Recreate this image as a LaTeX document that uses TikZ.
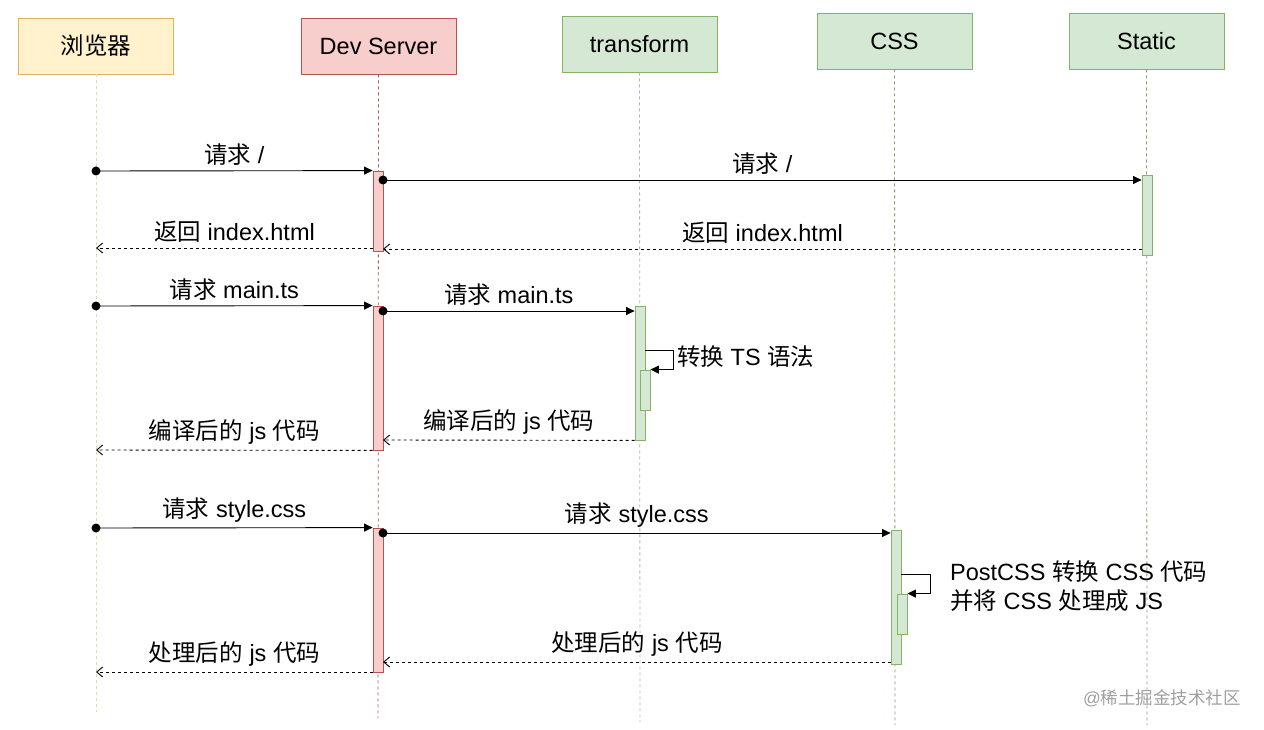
\documentclass[tikz,border=0pt]{standalone}
\usepackage{fontspec}
\setmainfont{Liberation Sans}
\newfontfamily\cjk{Noto Sans CJK SC}
\newcommand{\zh}[1]{{\cjk #1}}
\usetikzlibrary{arrows.meta}
\definecolor{yfill}{HTML}{FFF2CC}\definecolor{ydraw}{HTML}{D6B656}
\definecolor{rfill}{HTML}{F8CECC}\definecolor{rdraw}{HTML}{B85450}
\definecolor{gfill}{HTML}{D5E8D4}\definecolor{gdraw}{HTML}{82B366}
\tikzset{
  txt/.style={font=\fontsize{23.5}{27}\selectfont, inner sep=0pt},
  head/.style={draw, line width=0.8pt, minimum width=155pt, minimum height=56pt, txt},
  life/.style={line width=0.8pt, dash pattern=on 3pt off 3pt},
  act/.style={draw, line width=0.8pt, minimum width=10pt, inner sep=0pt},
  msg/.style={line width=0.9pt, -{Triangle[length=8.5pt,width=8pt]}},
  ret/.style={line width=0.9pt, dash pattern=on 3pt off 3pt, -{Straight Barb[length=6pt,width=10pt]}},
  lab/.style={txt, above=5pt, midway},
  dot/.style={circle, fill=black, inner sep=0pt, minimum size=9pt}
}
\begin{document}
\begin{tikzpicture}[x=1pt,y=-1pt]
\useasboundingbox (0,0) rectangle (1264,730);
% headers
\node[head, fill=yfill, draw=ydraw] (hB) at (96,46) {\zh{浏览器}};
\node[head, fill=rfill, draw=rdraw] (hD) at (378.5,46) {Dev Server};
\node[head, fill=gfill, draw=gdraw] (hT) at (639.5,44) {transform};
\node[head, fill=gfill, draw=gdraw] (hC) at (894.5,41) {CSS};
\node[head, fill=gfill, draw=gdraw] (hS) at (1146.5,41) {Static};
% lifeline ends
\coordinate (eB) at (96,712);
\coordinate (eD) at (378,718);
\coordinate (eT) at (640,722);
\coordinate (eC) at (895,725);
\coordinate (eS) at (1147,725);
\draw[life, draw=ydraw!55] (hB.south) -- (eB);
\draw[life, draw=rdraw] (hD.south) -- (eD);
\draw[life, draw=gray!60] (hT.south) -- (eT);
\draw[life, draw=gdraw!60!gray] (hC.south) -- (eC);
\draw[life, draw=gdraw!60!gray] (hS.south) -- (eS);
% activations
\node[act, fill=rfill, draw=rdraw, minimum height=80pt] (d1) at (378,211) {};
\node[act, fill=gfill, draw=gdraw, minimum height=80pt] (s1) at (1147,215) {};
\node[act, fill=rfill, draw=rdraw, minimum height=144pt] (d2) at (378,378) {};
\node[act, fill=gfill, draw=gdraw, minimum height=134pt] (t1) at (640,373) {};
\node[act, fill=gfill, draw=gdraw, minimum height=40pt] (t2) at (645,390) {};
\node[act, fill=rfill, draw=rdraw, minimum height=144pt] (d3) at (378,600) {};
\node[act, fill=gfill, draw=gdraw, minimum height=134pt] (c1) at (896,597) {};
\node[act, fill=gfill, draw=gdraw, minimum height=40pt] (c2) at (902,614) {};
% message endpoints
\coordinate (b1) at (96,171);
\coordinate (m2) at (383,180);
\coordinate (m3) at (1142,249);
\coordinate (m3e) at (383,249);
\coordinate (m4) at (373,248);
\coordinate (b4) at (96,248);
\coordinate (b5) at (96,306);
\coordinate (m6) at (383,311);
\coordinate (m8e) at (383,440);
\coordinate (b9) at (96,450);
\coordinate (b10) at (96,528);
\coordinate (m11) at (383,533);
\coordinate (m13) at (891,662);
\coordinate (m13e) at (383,662);
\coordinate (m14) at (373,672);
\coordinate (b14) at (96,672);
\coordinate (t7a) at (645,350);
\coordinate (t7b) at (673,350);
\coordinate (c12a) at (901,574);
\coordinate (c12b) at (930,574);
% messages
\node[dot] (p1) at (b1) {};
\draw[msg] (b1) -- node[lab] {\zh{请求} /} (d1.north west);
\node[dot] (p2) at (m2) {};
\draw[msg] (m2) -- node[lab] {\zh{请求} /} (s1.west |- m2);
\draw[ret] (m3) -- node[lab] {\zh{返回} index.html} (m3e);
\draw[ret] (m4) -- node[lab] {\zh{返回} index.html} (b4);
\node[dot] (p5) at (b5) {};
\draw[msg] (b5) -- node[lab] {\zh{请求} main.ts} (d2.north west);
\node[dot] (p6) at (m6) {};
\draw[msg] (m6) -- node[lab] {\zh{请求} main.ts} (t1.west |- m6);
\draw[msg] (t7a) -- (t7b) -- (t7b |- t2.north) -- (t2.north east);
\node[txt, anchor=west] (l7) at (677,357) {\zh{转换} TS \zh{语法}};
\draw[ret] (t1.south west) -- node[lab] {\zh{编译后的} js \zh{代码}} (m8e);
\draw[ret] (d2.south west) -- node[lab] {\zh{编译后的} js \zh{代码}} (b9);
\node[dot] (p10) at (b10) {};
\draw[msg] (b10) -- node[lab] {\zh{请求} style.css} (d3.north west);
\node[dot] (p11) at (m11) {};
\draw[msg] (m11) -- node[lab] {\zh{请求} style.css} (c1.west |- m11);
\draw[msg] (c12a) -- (c12b) -- (c12b |- c2.north) -- (c2.north east);
\node[txt, anchor=west, align=left, font=\fontsize{23.5}{29}\selectfont] (l12) at (950,586)
  {PostCSS \zh{转换} CSS \zh{代码}\\\zh{并将} CSS \zh{处理成} JS};
\draw[ret] (m13) -- node[lab] {\zh{处理后的} js \zh{代码}} (m13e);
\draw[ret] (m14) -- node[lab] {\zh{处理后的} js \zh{代码}} (b14);
% watermark
\node[font=\fontsize{17.5}{20}\selectfont, text=gray!75, inner sep=0pt] (wm) at (1162,698) {@\zh{稀土掘金技术社区}};
\end{tikzpicture}
\end{document}
